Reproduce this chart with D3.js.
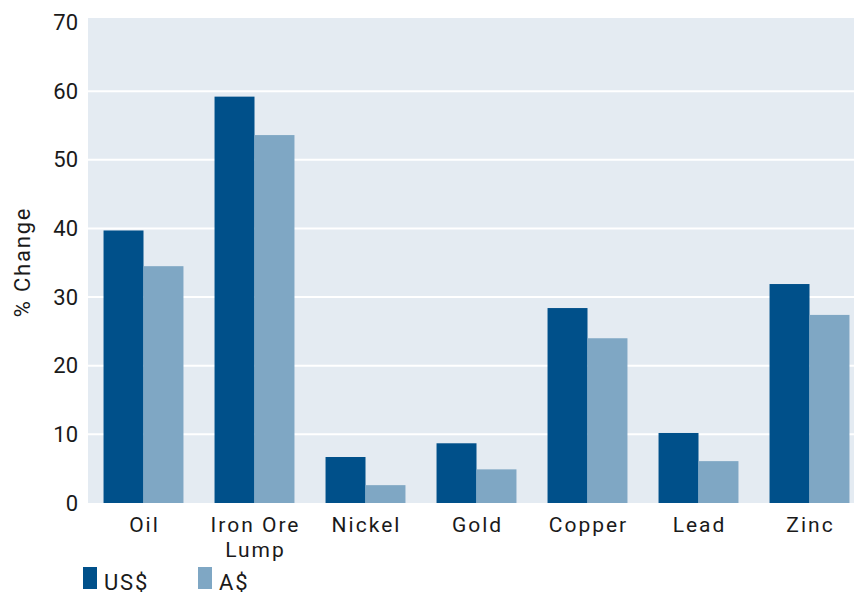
<!DOCTYPE html>
<html>
<head>
<meta charset="utf-8">
<script src="https://cdn.jsdelivr.net/npm/d3@7"></script>
<style>
  body { margin: 0; background: #fff; }
  text { font-family: Roboto, "DejaVu Sans", sans-serif; fill: #1a1a1a; }
</style>
</head>
<body>
<svg id="chart" width="854" height="596"></svg>
<script>
var categories = ["Oil", "Iron Ore|Lump", "Nickel", "Gold", "Copper", "Lead", "Zinc"];
var seriesNames = ["US$", "A$"];
var usd = [39.7, 59.2, 6.7, 8.7, 28.4, 10.2, 31.9];
var aud = [34.5, 53.6, 2.6, 4.9, 24.0, 6.1, 27.4];
var yTicks = [0, 10, 20, 30, 40, 50, 60, 70];

var colors = ["#00508a", "#7fa7c4"];

var svg = d3.select("#chart");

var plot = { left: 88, top: 18, right: 854, bottom: 503 };

var yScale = d3.scaleLinear()
  .domain([0, 70])
  .range([503, 22.5]);

var xScale = d3.scaleBand()
  .domain(categories)
  .range([88, 865])
  .paddingInner(0.28)
  .paddingOuter(0.14);

var xSub = d3.scaleBand()
  .domain(seriesNames)
  .range([0, xScale.bandwidth()]);

// background
svg.append("rect")
  .attr("x", plot.left)
  .attr("y", plot.top)
  .attr("width", plot.right - plot.left)
  .attr("height", plot.bottom - plot.top)
  .attr("fill", "#e4ebf2");

// gridlines
svg.append("g")
  .selectAll("line")
  .data(yTicks.filter(d => d > 0 && d < 70))
  .enter().append("line")
  .attr("x1", plot.left)
  .attr("x2", plot.right)
  .attr("y1", d => yScale(d))
  .attr("y2", d => yScale(d))
  .attr("stroke", "#fff")
  .attr("stroke-width", 2);

// bars
var rows = categories.map((c, i) => ({ cat: c, vals: [usd[i], aud[i]] }));
var groups = svg.append("g")
  .selectAll("g")
  .data(rows)
  .enter().append("g")
  .attr("transform", d => `translate(${xScale(d.cat)},0)`);

groups.selectAll("rect")
  .data(d => d.vals.map((v, j) => ({ s: seriesNames[j], v: v, j: j })))
  .enter().append("rect")
  .attr("x", d => xSub(d.s))
  .attr("width", xSub.bandwidth())
  .attr("y", d => yScale(d.v))
  .attr("height", d => yScale(0) - yScale(d.v))
  .attr("fill", d => colors[d.j]);

// y axis labels
var yAxis = svg.append("g")
  .attr("transform", "translate(78,0)")
  .call(d3.axisLeft(yScale).tickValues(yTicks).tickSize(0).tickPadding(0));
yAxis.select(".domain").remove();
yAxis.selectAll("text")
  .style("font-size", "22px")
  .style("font-family", "Roboto, sans-serif")
  .attr("fill", "#1a1a1a");

// x axis labels, one text per line
var xLabels = [];
categories.forEach(c => {
  c.split("|").forEach((p, k) => xLabels.push({ cat: c, text: p, line: k }));
});
svg.append("g")
  .selectAll("text")
  .data(xLabels)
  .enter().append("text")
  .attr("x", d => xScale(d.cat) + xScale.bandwidth() / 2 + 1)
  .attr("y", d => 532 + d.line * 25)
  .attr("text-anchor", "middle")
  .style("font-size", "21px")
  .style("letter-spacing", "2px")
  .text(d => d.text);

// y title
svg.append("text")
  .attr("transform", "translate(30,262) rotate(-90)")
  .attr("text-anchor", "middle")
  .style("font-size", "22px")
  .style("letter-spacing", "1.8px")
  .text("% Change");

// legend
var legend = svg.append("g")
  .selectAll("g")
  .data(seriesNames)
  .enter().append("g")
  .attr("transform", (d, i) => `translate(${83 + i * 115},567)`);
legend.append("rect")
  .attr("width", 14)
  .attr("height", 22)
  .attr("fill", (d, i) => colors[i]);
legend.append("text")
  .attr("x", 21)
  .attr("y", 23)
  .style("font-size", "22px")
  .style("letter-spacing", "1.8px")
  .text(d => d);
</script>
</body>
</html>
